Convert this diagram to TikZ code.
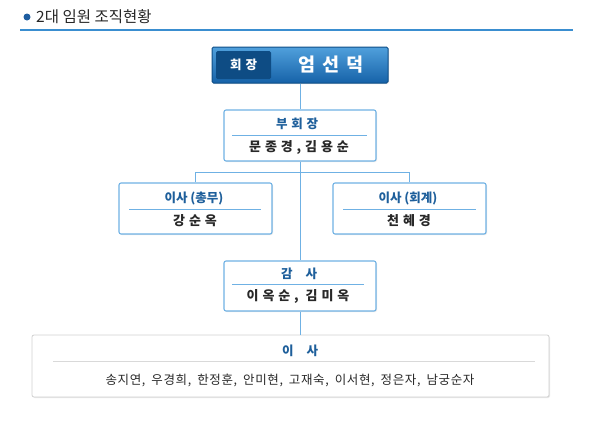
\documentclass[tikz,border=0pt]{standalone}
\usepackage{fontspec}
\setmainfont{Noto Sans CJK KR}
\newfontfamily\krwide[LetterSpace=30]{Noto Sans CJK KR}
\newfontfamily\krtitle[LetterSpace=5]{Noto Sans CJK KR}
\usetikzlibrary{shadows}
\definecolor{linkblue}{RGB}{111,177,228}
\definecolor{titleblue}{RGB}{30,95,155}
\definecolor{headblue}{RGB}{30,93,160}
\definecolor{namegray}{RGB}{40,40,40}
\tikzset{
  orgbox/.style={draw=linkblue,line width=1.1pt,fill=white,rounded corners=2pt,
    drop shadow={opacity=.18,shadow xshift=1pt,shadow yshift=-1pt},inner sep=0pt},
  boardbox/.style={orgbox,draw=black!18,line width=.8pt},
  rank/.style={text=titleblue,font=\fontsize{12.5}{14}\selectfont\bfseries,inner sep=0pt},
  who/.style={text=namegray,font=\fontsize{13}{15}\selectfont\bfseries,inner sep=0pt},
  sepline/.style={draw=linkblue,line width=.8pt},
  link/.style={draw=linkblue,line width=1pt}
}
\begin{document}
\begin{tikzpicture}[x=1pt,y=-1pt]
\path[use as bounding box] (0,0) rectangle (592,445);
% heading
\fill[headblue] (27,17) circle[radius=3.5];
\node[anchor=west,inner sep=0pt,text=black!85,font=\fontsize{15.5}{17}\selectfont] (head) at (36,17) {2대 임원 조직현황};
\draw[draw={rgb,255:red,58;green,142;blue,208},line width=1.3pt] (20,30) -- (573,30);
% boxes
\node[draw={rgb,255:red,15;green,78;blue,135},line width=1pt,rounded corners=1.5pt,
  top color={rgb,255:red,80;green,160;blue,220},bottom color={rgb,255:red,22;green,98;blue,168},
  minimum width=176pt,minimum height=36pt,inner sep=0pt,
  drop shadow={opacity=.2,shadow xshift=1pt,shadow yshift=-1pt}] (pres) at (300,65) {};
\node[fill={rgb,255:red,14;green,76;blue,132},rounded corners=1.5pt,minimum width=55pt,
  minimum height=28pt,inner sep=0pt,text=white,font=\fontsize{12.5}{14}\selectfont\bfseries] (presT) at (243.5,65) {회\hspace{4pt}장};
\node[text=white,inner sep=0pt,font=\fontsize{18.5}{20}\selectfont\bfseries] (presN) at (331,65) {엄\hspace{7pt}선\hspace{7pt}덕};
\node[orgbox,minimum width=152pt,minimum height=51pt] (vice) at (300,135.5) {};
\node[orgbox,minimum width=153pt,minimum height=51pt] (sec) at (195.5,208.5) {};
\node[orgbox,minimum width=153pt,minimum height=51pt] (treas) at (409.5,208.5) {};
\node[orgbox,minimum width=152pt,minimum height=50pt] (audit) at (300,286) {};
\node[boardbox,minimum width=517pt,minimum height=62pt] (board) at (290.5,366) {};
% texts
\node[rank] (viceT) at (297,124) {\krwide 부회장};
\node[who] (viceN) at (299,147) {\krwide 문종경,김용순};
\node[rank] (secT) at (194,198) {이사 (총무)};
\node[who] (secN) at (195,221) {\krwide 강순옥};
\node[rank] (treasT) at (408,198) {이사 (회계)};
\node[who] (treasN) at (409,221) {\krwide 천혜경};
\node[rank] (auditT) at (299,274) {감\hspace{13pt}사};
\node[who] (auditN) at (298,296) {\krwide 이옥순, 김미옥};
\node[rank] (boardT) at (300,351) {이\hspace{13pt}사};
\node[inner sep=0pt,text=namegray,font=\fontsize{12.5}{14}\selectfont] (boardN) at (290,380)
  {\krtitle 송지연,\hspace{6pt}우경희,\hspace{6pt}한정훈,\hspace{6pt}안미현,\hspace{6pt}고재숙,\hspace{6pt}이서현,\hspace{6pt}정은자,\hspace{6pt}남궁순자};
% separators
\draw[sepline] (232,135) -- (367,135);
\draw[sepline] (129,209) -- (261,209);
\draw[sepline] (343,209) -- (476,209);
\draw[sepline] (232,284.5) -- (364,284.5);
\draw[draw=black!15,line width=.8pt] (53,361) -- (535,361);
% connectors
\coordinate (split) at (300,172.5);
\draw[link] (pres.south) -- (vice.north);
\draw[link] (vice.south) -- (audit.north);
\draw[link] (audit.south) -- (300,335);
\draw[link] (sec.north) |- (split) -| (treas.north);
\end{tikzpicture}
\end{document}
